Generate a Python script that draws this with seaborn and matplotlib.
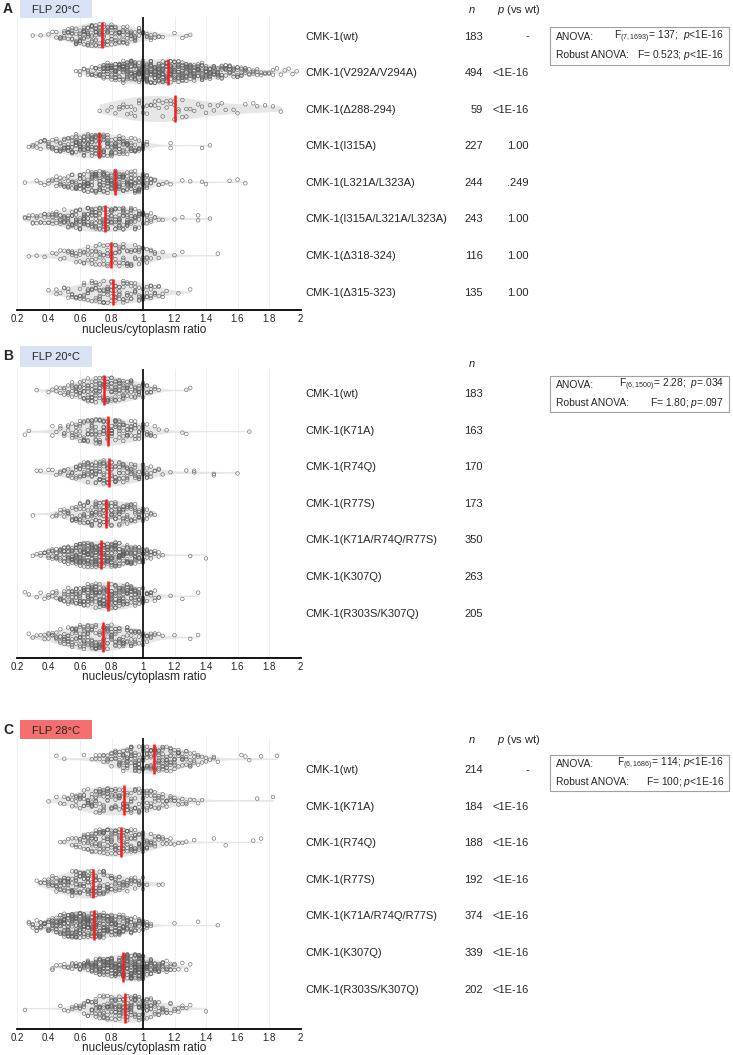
import numpy as np
import pandas as pd
import matplotlib
matplotlib.use("Agg")
import matplotlib.pyplot as plt
from matplotlib.patches import Rectangle
import seaborn as sns

BIN = 0.025

# ---- panel A : FLP 20C
a_labels = ["CMK-1(wt)", "CMK-1(V292A/V294A)", "CMK-1(\u0394288-294)", "CMK-1(I315A)",
            "CMK-1(L321A/L323A)", "CMK-1(I315A/L321A/L323A)", "CMK-1(\u0394318-324)",
            "CMK-1(\u0394315-323)"]
a_n = [183, 494, 59, 227, 244, 243, 116, 135]
a_p = ["-", "<1E-16", "<1E-16", "1.00", ".249", "1.00", "1.00", "1.00"]
a_medians = [0.742, 1.157, 1.20, 0.719, 0.82, 0.759, 0.795, 0.807]
a_starts = [0.30, 0.575, 0.725, 0.275, 0.25, 0.25, 0.275, 0.40]
a_counts = [
    [1,0,1,0,1,1,2,3,4,5,6,7,8,9,10,10,11,10,10,9,9,8,8,7,7,6,6,5,4,3,3,2,2,1,0,0,1,0,1,1,1],
    [1,2,2,3,4,5,6,10,11,12,13,13,14,15,15,16,16,17,17,17,17,17,17,16,16,15,15,14,14,13,12,12,
     11,10,10,9,8,8,7,7,6,6,5,5,3,3,3,2,2,2,2,1,1,1,1,1,1],
    [1,0,1,1,1,2,2,2,2,2,2,2,2,2,2,2,2,2,2,3,2,2,2,1,1,1,1,1,1,1,1,1,1,0,1,1,0,1,0,1,1,0,1,0,1,0,1],
    [1,2,2,3,3,4,4,5,6,7,8,9,10,11,12,12,12,12,11,11,10,10,9,9,8,8,7,6,5,4,2,0,0,0,0,0,2,0,0,0,
     0,0,0,0,1,0,1],
    [1,0,0,1,1,1,2,2,3,4,4,5,6,7,9,10,10,11,11,12,12,12,12,12,11,11,10,11,10,10,9,6,4,2,2,1,1,1,
     0,0,1,0,1,0,0,1,1,0,0,0,0,0,1,0,1,0,1],
    [2,2,3,3,3,4,4,5,5,6,7,7,8,9,9,10,10,10,10,10,10,10,10,9,10,10,10,9,9,7,6,4,3,2,1,1,0,0,1,0,
     1,0,0,0,2,0,0,1],
    [1,0,1,0,1,0,1,1,2,2,2,3,3,3,4,4,4,5,5,5,6,6,6,6,6,6,5,5,5,4,4,3,2,1,1,0,0,1,0,1,0,0,0,0,0,
     0,0,0,1],
    [1,0,2,1,2,3,3,3,4,5,5,6,6,7,7,7,7,7,6,6,6,5,5,5,5,4,5,4,3,2,1,0,0,1,0,0,1],
]

# ---- panel B : FLP 20C
b_labels = ["CMK-1(wt)", "CMK-1(K71A)", "CMK-1(R74Q)", "CMK-1(R77S)", "CMK-1(K71A/R74Q/R77S)",
            "CMK-1(K307Q)", "CMK-1(R303S/K307Q)"]
b_n = [183, 163, 170, 173, 350, 263, 205]
b_medians = [0.754, 0.776, 0.782, 0.765, 0.731, 0.778, 0.748]
b_starts = [0.325, 0.25, 0.325, 0.30, 0.30, 0.25, 0.275]
b_counts = [
    [1,0,0,1,1,2,2,3,4,5,6,7,8,9,10,10,10,11,11,10,10,9,9,8,7,6,6,5,4,3,2,1,0,0,0,0,0,0,1,1],
    [1,1,0,0,0,0,0,2,1,2,3,3,4,5,6,7,8,9,9,9,9,9,9,8,8,7,7,6,6,5,5,4,3,2,1,0,1,0,0,0,1,1,0,0,
     0,0,0,0,0,0,0,0,0,0,0,0,0,1],
    [1,1,0,1,1,1,2,2,3,4,5,6,7,8,8,9,10,10,10,8,8,8,7,7,6,6,5,6,5,3,2,2,1,0,1,0,0,0,1,0,2,0,0,
     0,0,2,0,0,0,0,0,1],
    [1,0,0,0,0,1,2,2,3,4,5,6,7,8,9,10,10,10,10,10,10,9,9,8,8,7,7,6,5,3,2,1],
    [1,1,2,3,4,5,6,7,9,11,13,14,16,17,18,18,18,18,18,17,17,16,15,14,13,12,11,10,8,6,4,3,2,1,
     0,0,0,0,0,0,1,0,0,0,1],
    [1,1,0,1,1,1,2,2,3,4,5,6,8,9,10,11,12,13,13,14,14,14,14,13,13,12,12,11,10,9,7,5,4,3,2,0,0,
     1,0,0,1,0,0,0,1],
    [1,1,1,1,2,3,3,4,5,6,7,8,8,9,10,10,10,10,10,10,10,9,8,8,7,7,7,6,5,5,4,3,2,1,1,0,0,1,0,0,0,
     1,0,1],
]

# ---- panel C : FLP 28C
c_labels = b_labels
c_n = [214, 184, 188, 192, 374, 339, 202]
c_p = ["-", "<1E-16", "<1E-16", "<1E-16", "<1E-16", "<1E-16", "<1E-16"]
c_medians = [1.068, 0.881, 0.860, 0.685, 0.689, 0.875, 0.884]
c_starts = [0.45, 0.40, 0.475, 0.325, 0.275, 0.425, 0.25]
c_counts = [
    [1,0,1,0,0,0,0,1,0,1,2,2,3,4,5,6,7,9,10,10,11,10,10,10,10,10,11,10,10,9,8,7,6,5,5,4,3,2,2,
     1,2,1,0,0,0,0,0,1,1,1,0,0,1,0,0,0,1],
    [1,0,1,1,2,2,3,4,5,6,7,7,8,8,8,8,7,8,7,8,8,7,7,7,6,6,6,5,5,4,4,3,3,2,2,2,1,1,1,1,0,0,0,0,
     0,0,0,0,0,0,0,0,0,1,0,0,0,1],
    [1,1,1,2,3,4,5,7,8,9,9,10,10,10,10,10,10,10,9,9,8,8,6,5,4,3,3,2,2,1,1,1,1,0,1,0,0,0,0,1,0,
     0,1,0,0,0,0,0,0,1,0,1],
    [1,2,2,4,5,6,7,8,9,10,10,11,11,11,11,10,10,9,8,7,6,6,5,5,4,4,4,3,1,0,0,1,1],
    [2,3,4,5,6,7,9,11,13,16,17,18,19,19,19,19,19,18,17,16,15,15,14,13,12,10,9,8,7,5,4,2,0,0,0,
     0,0,1,0,0,0,0,0,1,0,0,0,0,1],
    [2,1,1,2,2,3,4,5,6,8,9,12,13,14,15,16,17,18,19,20,20,24,24,20,13,12,9,8,6,5,4,3,1,1,1,1],
    [1,0,0,0,0,0,0,0,0,1,1,1,2,2,3,4,5,6,8,9,9,10,10,11,11,11,11,11,11,10,9,8,7,6,5,4,3,3,2,2,
     2,1,1,0,0,0,1],
]

anova_a = [r"F$_{(7,1693)}$= 137;  $p$<1E-16", r"F= 0.523; $p$<1E-16"]
anova_b = [r"F$_{(6,1500)}$= 2.28;  $p$=.034", r"F= 1.80; $p$=.097"]
anova_c = [r"F$_{(6,1686)}$= 114; $p$<1E-16", r"F= 100; $p$<1E-16"]

xticks = [0.2, 0.4, 0.6, 0.8, 1.0, 1.2, 1.4, 1.6, 1.8, 2.0]
xticklabels = ["0.2", "0.4", "0.6", "0.8", "1", "1.2", "1.4", "1.6", "1.8", "2"]


def to_frame(labels, starts, counts):
    parts = []
    for lab, s, c in zip(labels, starts, counts):
        c = np.array(c)
        vals = np.repeat(np.round(s + BIN * np.arange(len(c)), 3), c)
        # how crowded each point's bin is, used to narrow the jitter in the tails
        rel = np.repeat(c / c.max(), c)
        parts.append(pd.DataFrame({"group": lab, "ratio": vals, "rel": rel}))
    return pd.concat(parts, ignore_index=True)


sns.set_style("white")
plt.rcParams["font.family"] = ["Liberation Sans", "DejaVu Sans"]
plt.rcParams["mathtext.fontset"] = "custom"
plt.rcParams["mathtext.rm"] = "Liberation Sans"
plt.rcParams["mathtext.it"] = "Liberation Sans:italic"

W, H = 733, 1055
fig = plt.figure(figsize=(W / 100, H / 100), dpi=100)
FS = 8


def px_axes(left, right, top, bottom):
    return fig.add_axes([left / W, 1 - bottom / H, (right - left) / W, (bottom - top) / H])


def ftext(x, y, s, **kw):
    kw.setdefault("va", "center")
    kw.setdefault("fontsize", FS)
    fig.text(x / W, 1 - y / H, s, **kw)


def fbox(x0, y0, x1, y1, **kw):
    fig.add_artist(Rectangle((x0 / W, 1 - y1 / H), (x1 - x0) / W, (y1 - y0) / H,
                             transform=fig.transFigure, **kw))


def draw_panel(ax, df, labels, medians):
    k = len(labels)
    ax.grid(axis="x", color="#ededed", lw=0.6)
    ax.set_axisbelow(True)
    sns.violinplot(data=df, x="ratio", y="group", order=labels, orient="h",
                   color="#e6e6e6", linecolor="#e6e6e6", linewidth=0.6, inner=None,
                   cut=0, density_norm="width", width=0.68, ax=ax)
    # sina-like look: crowded bins get a wide jitter, tail points stay near the middle
    for lo, hi in [(0, 0.2), (0.2, 0.4), (0.4, 0.6), (0.6, 0.8), (0.8, 1.01)]:
        sub = df[(df["rel"] > lo) & (df["rel"] <= hi)]
        if len(sub) == 0:
            continue
        sns.stripplot(data=sub, x="ratio", y="group", order=labels, orient="h",
                      jitter=0.04 + 0.26 * hi, size=2.6, color="#5e5e5e", facecolor="none",
                      edgecolor="#5e5e5e", linewidth=0.4, ax=ax)
    ax.vlines(medians, np.arange(k) - 0.36, np.arange(k) + 0.36, color="#ff1a1a",
              lw=1.8, zorder=5)
    ax.axvline(1, color="black", lw=1.2, zorder=6)
    ax.set_xlim(0.2, 2.0)
    ax.set_ylim(k - 0.5, -0.5)
    ax.set_xticks(xticks)
    ax.set_xticklabels(xticklabels)
    ax.set_yticks([])
    ax.set_ylabel("")
    ax.set_xlabel("nucleus/cytoplasm ratio", fontsize=8.6, labelpad=1)
    ax.xaxis.set_label_coords(0.45, -0.045)
    ax.tick_params(axis="x", length=0, labelsize=7, pad=3, labelcolor="#222222")
    for side in ["top", "right", "left"]:
        ax.spines[side].set_visible(False)
    ax.spines["bottom"].set_color("black")
    ax.spines["bottom"].set_linewidth(1.3)


def side_table(labels, n, p, y0, y_head, step=36.6):
    ftext(472, y_head, "n", style="italic", ha="center")
    if p is not None:
        ftext(497, y_head, r"$p$ (vs wt)")
    for i, lab in enumerate(labels):
        y = y0 + i * step
        ftext(305, y, lab)
        ftext(483, y, str(n[i]), ha="right")
        if p is not None:
            ftext(529, y, p[i], ha="right")


def anova_box(lines, top, bottom):
    fbox(550, top, 729, bottom, facecolor="white", edgecolor="#a0a0a0", lw=0.8)
    mid = (top + bottom) / 2
    ftext(556, mid - 9, "ANOVA:", fontsize=7.4)
    ftext(556, mid + 9, "Robust ANOVA:", fontsize=7.4)
    ftext(724, mid - 9, lines[0], ha="right", fontsize=7.4)
    ftext(724, mid + 9, lines[1], ha="right", fontsize=7.4)


def title_box(letter, text, color, top, bottom):
    ftext(8, (top + bottom) / 2, letter, fontsize=10, fontweight="bold", ha="center")
    fbox(20, top, 92, bottom, facecolor=color, edgecolor="none")
    ftext(56, (top + bottom) / 2 + 1, text, fontsize=8, ha="center")


# panel A
ax_a = px_axes(17, 300.5, 16.7, 310.3)
draw_panel(ax_a, to_frame(a_labels, a_starts, a_counts), a_labels, a_medians)
title_box("A", "FLP 20\u00b0C", "#dae3f3", 0, 18)
side_table(a_labels, a_n, a_p, 36.5, 10)
anova_box(anova_a, 27, 65)

# panel B
ax_b = px_axes(17, 300.5, 369.4, 657.6)
draw_panel(ax_b, to_frame(b_labels, b_starts, b_counts), b_labels, b_medians)
title_box("B", "FLP 20\u00b0C", "#dae3f3", 346, 367)
side_table(b_labels, b_n, None, 394, 364)
anova_box(anova_b, 376, 412)

# panel C
ax_c = px_axes(17, 300.5, 738, 1029)
draw_panel(ax_c, to_frame(c_labels, c_starts, c_counts), c_labels, c_medians)
title_box("C", "FLP 28\u00b0C", "#f56f6f", 720, 739)
side_table(c_labels, c_n, c_p, 770, 740)
anova_box(anova_c, 755, 791)

fig.savefig("out.png", dpi=100)
